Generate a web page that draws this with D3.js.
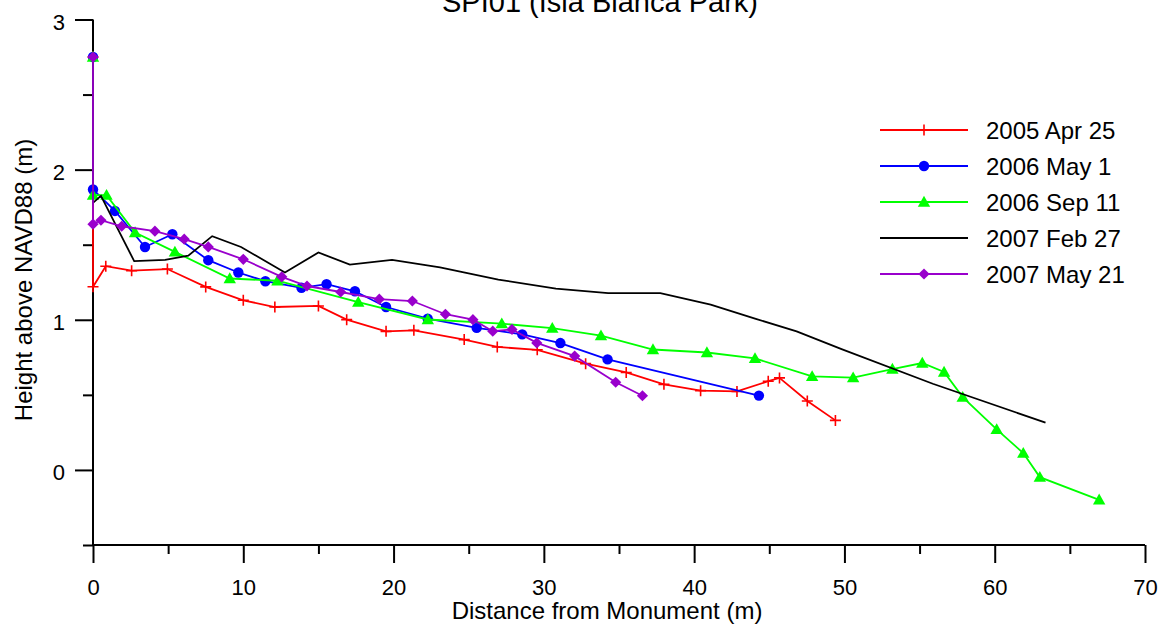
<!DOCTYPE html>
<html>
<head>
<meta charset="utf-8">
<script src="https://cdn.jsdelivr.net/npm/d3@7"></script>
<style>
  html, body { margin: 0; padding: 0; background: #fff; }
  svg { display: block; font-family: "Liberation Sans", Arial, sans-serif; }
</style>
</head>
<body>
<svg id="chart" width="1162" height="626"></svg>
<script>
// ---- data ----
const title = "SPI01 (Isla Blanca Park)";
const xLabel = "Distance from Monument (m)";
const yLabel = "Height above NAVD88 (m)";
const seriesNames = ["2005 Apr 25", "2006 May 1", "2006 Sep 11", "2007 Feb 27", "2007 May 21"];
const seriesColors = ["#ff0000", "#0000ff", "#00ff00", "#000000", "#9900cc"];
const seriesMarkers = ["cross", "circle", "triangle", "none", "diamond"];
const xTicks = [0, 10, 20, 30, 40, 50, 60, 70];
const yTicks = [0, 1, 2, 3];

const apr2005 = [[0,2.75],[0,1.22],[0.85,1.357],[2.57,1.327],[4.95,1.338],[7.5,1.219],[10.0,1.13],[12.1,1.085],[15.0,1.092],[16.88,1.001],[19.5,0.923],[21.35,0.93],[24.7,0.868],[26.9,0.819],[29.56,0.8],[32.78,0.708],[35.48,0.649],[37.99,0.57],[40.43,0.528],[42.85,0.523],[44.93,0.591],[45.68,0.613],[47.53,0.459],[49.4,0.33]];
const may2006 = [[0,2.75],[0,1.868],[1.46,1.725],[3.46,1.485],[5.28,1.57],[7.67,1.397],[9.67,1.315],[11.47,1.257],[13.87,1.213],[15.54,1.237],[17.43,1.19],[19.5,1.085],[22.27,1.008],[25.53,0.946],[28.56,0.903],[31.1,0.845],[34.24,0.736],[44.31,0.495]];
const sep2006 = [[0,2.75],[0,1.83],[0.9,1.83],[2.8,1.581],[5.45,1.452],[9.1,1.275],[12.27,1.26],[17.65,1.117],[22.28,1.002],[27.2,0.974],[30.56,0.944],[33.8,0.894],[37.26,0.802],[40.85,0.782],[44.05,0.743],[47.85,0.623],[50.58,0.615],[53.19,0.672],[55.18,0.712],[56.63,0.652],[57.87,0.485],[60.13,0.27],[61.9,0.112],[63.0,-0.048],[66.95,-0.199]];
const feb2007 = [[0,2.75],[0,1.779],[0.53,1.825],[2.74,1.391],[4.8,1.399],[6.34,1.427],[7.93,1.557],[9.85,1.485],[12.77,1.315],[15.0,1.448],[17.09,1.368],[19.9,1.399],[23.09,1.349],[26.97,1.268],[30.8,1.208],[34.28,1.177],[37.75,1.177],[41.1,1.101],[44.05,1.008],[46.82,0.923],[49.81,0.805],[55.88,0.574],[63.38,0.315]];
const may2007 = [[0,2.75],[0,1.637],[0.53,1.663],[1.91,1.623],[4.12,1.59],[6.07,1.537],[7.67,1.485],[10.0,1.403],[12.56,1.286],[14.24,1.225],[16.48,1.185],[19.05,1.137],[21.25,1.125],[23.45,1.037],[25.28,1.001],[26.6,0.924],[27.88,0.936],[29.53,0.846],[32.05,0.758],[34.78,0.584],[36.56,0.494]];
const seriesData = [apr2005, may2006, sep2006, feb2007, may2007];

// ---- layout ----
const svg = d3.select("#chart");
const x = d3.scaleLinear().domain([0, 70]).range([93, 1145]);
const y = d3.scaleLinear().domain([-0.5, 3]).range([545, 19.5]);

// axes
const xAxisMajor = d3.axisBottom(x).tickValues(xTicks).tickSize(18).tickPadding(12).tickFormat(d3.format("d"));
const xAxisMinor = d3.axisBottom(x).tickValues(d3.range(5, 70, 10)).tickSize(9).tickFormat("");
const yAxisMajor = d3.axisLeft(y).tickValues(yTicks).tickSize(18).tickPadding(11).tickFormat(d3.format("d"));
const yAxisMinor = d3.axisLeft(y).tickValues([-0.5, 0.5, 1.5, 2.5]).tickSize(10).tickFormat("");

function styleAxis(g) {
  g.select(".domain").remove();
  g.selectAll("line").attr("stroke", "#000").attr("stroke-width", 2);
  g.selectAll("text").attr("fill", "#000").attr("font-size", 22)
    .attr("font-family", "'Liberation Sans', Arial, sans-serif");
}
const gx = svg.append("g").attr("transform", `translate(0,${y(-0.5)})`).call(xAxisMajor).call(styleAxis);
gx.selectAll("text").attr("dy", null).attr("y", 50);
svg.append("g").attr("transform", `translate(0,${y(-0.5)})`).call(xAxisMinor).call(styleAxis);
const gy = svg.append("g").attr("transform", `translate(${x(0)},0)`).call(yAxisMajor).call(styleAxis);
gy.selectAll("text").attr("dy", "9.5").attr("x", -28);
svg.append("g").attr("transform", `translate(${x(0)},0)`).call(yAxisMinor).call(styleAxis);

// axis lines
svg.append("line").attr("x1", x(0)).attr("x2", x(70)).attr("y1", y(-0.5)).attr("y2", y(-0.5))
  .attr("stroke", "#000").attr("stroke-width", 2);
svg.append("line").attr("x1", x(0)).attr("x2", x(0)).attr("y1", y(-0.5)).attr("y2", y(3))
  .attr("stroke", "#000").attr("stroke-width", 2);

// labels
svg.append("text").attr("x", 600).attr("y", 12).attr("text-anchor", "middle")
  .attr("font-size", 29).attr("fill", "#000").text(title);
svg.append("text").attr("x", 607).attr("y", 619).attr("text-anchor", "middle")
  .attr("font-size", 24).attr("fill", "#000").text(xLabel);
svg.append("text").attr("transform", "translate(32,280) rotate(-90)").attr("text-anchor", "middle")
  .attr("font-size", 24).attr("fill", "#000").text(yLabel);

// marker drawing
function drawMarker(g, type, color, cx, cy) {
  if (type === "circle") {
    g.append("circle").attr("cx", cx).attr("cy", cy).attr("r", 5.2).attr("fill", color);
  } else if (type === "triangle") {
    const s = 6.2;
    g.append("path").attr("d", `M${cx},${cy - s}L${cx + s},${cy + s * 0.75}L${cx - s},${cy + s * 0.75}Z`).attr("fill", color);
  } else if (type === "diamond") {
    const s = 5.6;
    g.append("path").attr("d", `M${cx},${cy - s}L${cx + s},${cy}L${cx},${cy + s}L${cx - s},${cy}Z`).attr("fill", color);
  } else if (type === "cross") {
    const s = 5.5;
    g.append("path").attr("d", `M${cx - s},${cy}H${cx + s}M${cx},${cy - s}V${cy + s}`)
      .attr("stroke", color).attr("stroke-width", 1.6).attr("fill", "none");
  }
}

const line = d3.line().x(d => x(d[0])).y(d => y(d[1]));
seriesData.forEach((data, i) => {
  const g = svg.append("g");
  g.append("path").datum(data).attr("d", line).attr("fill", "none")
    .attr("stroke", seriesColors[i]).attr("stroke-width", 1.8).attr("stroke-linejoin", "miter");
  if (seriesMarkers[i] !== "none") {
    data.forEach(d => drawMarker(g, seriesMarkers[i], seriesColors[i], x(d[0]), y(d[1])));
  }
});

// legend
const legend = svg.append("g");
seriesNames.forEach((name, i) => {
  const ly = 130 + i * 36;
  legend.append("line").attr("x1", 880).attr("x2", 968).attr("y1", ly).attr("y2", ly)
    .attr("stroke", seriesColors[i]).attr("stroke-width", 1.8);
  if (seriesMarkers[i] !== "none") drawMarker(legend, seriesMarkers[i], seriesColors[i], 924, ly);
  legend.append("text").attr("x", 986).attr("y", ly + 9).attr("font-size", 24).attr("fill", "#000").text(name);
});
</script>
</body>
</html>
